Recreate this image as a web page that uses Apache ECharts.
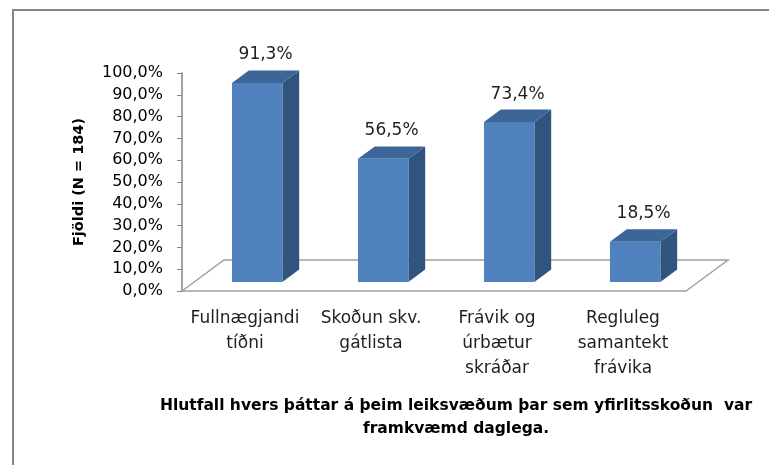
<!DOCTYPE html>
<html lang="is">

<head>
    <meta charset="UTF-8">
    <title>Hlutfall hvers þáttar</title>
    <script src="https://cdn.jsdelivr.net/npm/echarts@6/dist/echarts.min.js"></script>
</head>

<body style="margin:0">
    <div id="container" style="width: 769px;height: 465px"></div>

    <script>
        // gögn lesin af myndinni
        var categories = ['Fullnægjandi\ntíðni', 'Skoðun skv.\ngátlista', 'Frávik og\núrbætur\nskráðar', 'Regluleg\nsamantekt\nfrávika'];
        var values = [91.3, 56.5, 73.4, 18.5];
        var yTicks = { min: 0, max: 100, interval: 10 };
        var titleLines = ['Hlutfall hvers þáttar á þeim leiksvæðum þar sem yfirlitsskoðun  var', 'framkvæmd daglega.'];
        var yName = 'Fjöldi (N = 184)';

        // "dýpt" gólfsins í 3D útliti
        var DEPTH = [42, -31];
        var FRONT = 0.29; // hvar framhlið súlu er í dýptinni
        var BAR_D = 0.40; // dýpt súlu

        function pct(v) {
            return v.toFixed(1).replace('.', ',') + '%';
        }

        var myChart = echarts.init(document.getElementById('container'));

        myChart.setOption({
            backgroundColor: '#fff',
            animation: false,
            title: {
                text: titleLines.join('\n'),
                left: 451,
                top: 389,
                textAlign: 'center',
                textStyle: {
                    fontFamily: 'DejaVu Sans',
                    fontWeight: 'bold',
                    fontSize: 15.5,
                    lineHeight: 23,
                    color: '#000'
                }
            },
            graphic: [{
                // rammi utan um myndina
                type: 'rect',
                shape: { x: 13, y: 10, width: 800, height: 500 },
                style: { fill: 'none', stroke: '#868686', lineWidth: 2 },
                silent: true
            }],
            grid: { left: 182, right: 83, top: 73, bottom: 174 },
            xAxis: {
                type: 'category',
                data: categories,
                axisLine: { lineStyle: { color: '#a0a0a0', width: 1.5 } },
                axisTick: { length: 5, lineStyle: { color: '#a0a0a0' } },
                axisLabel: {
                    interval: 0,
                    hideOverlap: false,
                    margin: 15,
                    fontFamily: 'DejaVu Sans',
                    fontSize: 17,
                    lineHeight: 25,
                    color: '#1f1f1f'
                },
                splitLine: { show: false }
            },
            yAxis: {
                type: 'value',
                min: yTicks.min,
                max: yTicks.max,
                interval: yTicks.interval,
                name: yName,
                nameLocation: 'middle',
                nameRotate: 90,
                nameGap: 95,
                nameTextStyle: {
                    fontFamily: 'DejaVu Sans',
                    fontWeight: 'bold',
                    fontSize: 14.5,
                    color: '#000'
                },
                axisLine: { show: true, lineStyle: { color: '#868686', width: 1.5 } },
                axisTick: { show: true, length: 5, lineStyle: { color: '#868686' } },
                axisLabel: {
                    margin: 19,
                    fontFamily: 'DejaVu Sans',
                    fontSize: 16,
                    color: '#000',
                    formatter: pct
                },
                splitLine: { show: false }
            },
            series: [{
                // gólfið
                type: 'custom',
                z: 1,
                silent: true,
                data: [0],
                renderItem: function (params, api) {
                    var r = params.coordSys;
                    var fl = [r.x, r.y + r.height];
                    var fr = [r.x + r.width, r.y + r.height];
                    return {
                        type: 'polyline',
                        shape: {
                            points: [fl, [fl[0] + DEPTH[0], fl[1] + DEPTH[1]], [fr[0] + DEPTH[0], fr[1] + DEPTH[1]], fr]
                        },
                        style: { fill: 'none', stroke: '#a0a0a0', lineWidth: 1.5 }
                    };
                }
            }, {
                // súlurnar
                type: 'custom',
                z: 3,
                data: values.map(function (v, i) { return [i, v]; }),
                renderItem: function (params, api) {
                    var base = api.coord([api.value(0), 0]);
                    var top = api.coord([api.value(0), api.value(1)]);
                    var band = api.size([1, 0])[0];
                    var w = band * 0.4;
                    var sx = DEPTH[0] * FRONT, sy = DEPTH[1] * FRONT;
                    var dx = DEPTH[0] * BAR_D, dy = DEPTH[1] * BAR_D;
                    var x0 = base[0] - w / 2 + sx, x1 = base[0] + w / 2 + sx;
                    var yb = base[1] + sy, yt = top[1] + sy;
                    return {
                        type: 'group',
                        children: [{
                            type: 'polygon',
                            shape: { points: [[x1, yb], [x1 + dx, yb + dy], [x1 + dx, yt + dy], [x1, yt]] },
                            style: { fill: '#31547f' }
                        }, {
                            type: 'polygon',
                            shape: { points: [[x0, yt], [x1, yt], [x1 + dx, yt + dy], [x0 + dx, yt + dy]] },
                            style: { fill: '#3c6598' }
                        }, {
                            type: 'rect',
                            shape: { x: x0, y: yt, width: w, height: yb - yt },
                            style: { fill: '#4f81bd' }
                        }, {
                            type: 'text',
                            style: {
                                text: pct(api.value(1)),
                                x: (x0 + x1) / 2 + dx / 2,
                                y: yt + dy - 7,
                                textAlign: 'center',
                                textVerticalAlign: 'bottom',
                                fontFamily: 'DejaVu Sans',
                                fontSize: 17,
                                fill: '#1f1f1f'
                            }
                        }]
                    };
                }
            }]
        });
    </script>
</body>

</html>
